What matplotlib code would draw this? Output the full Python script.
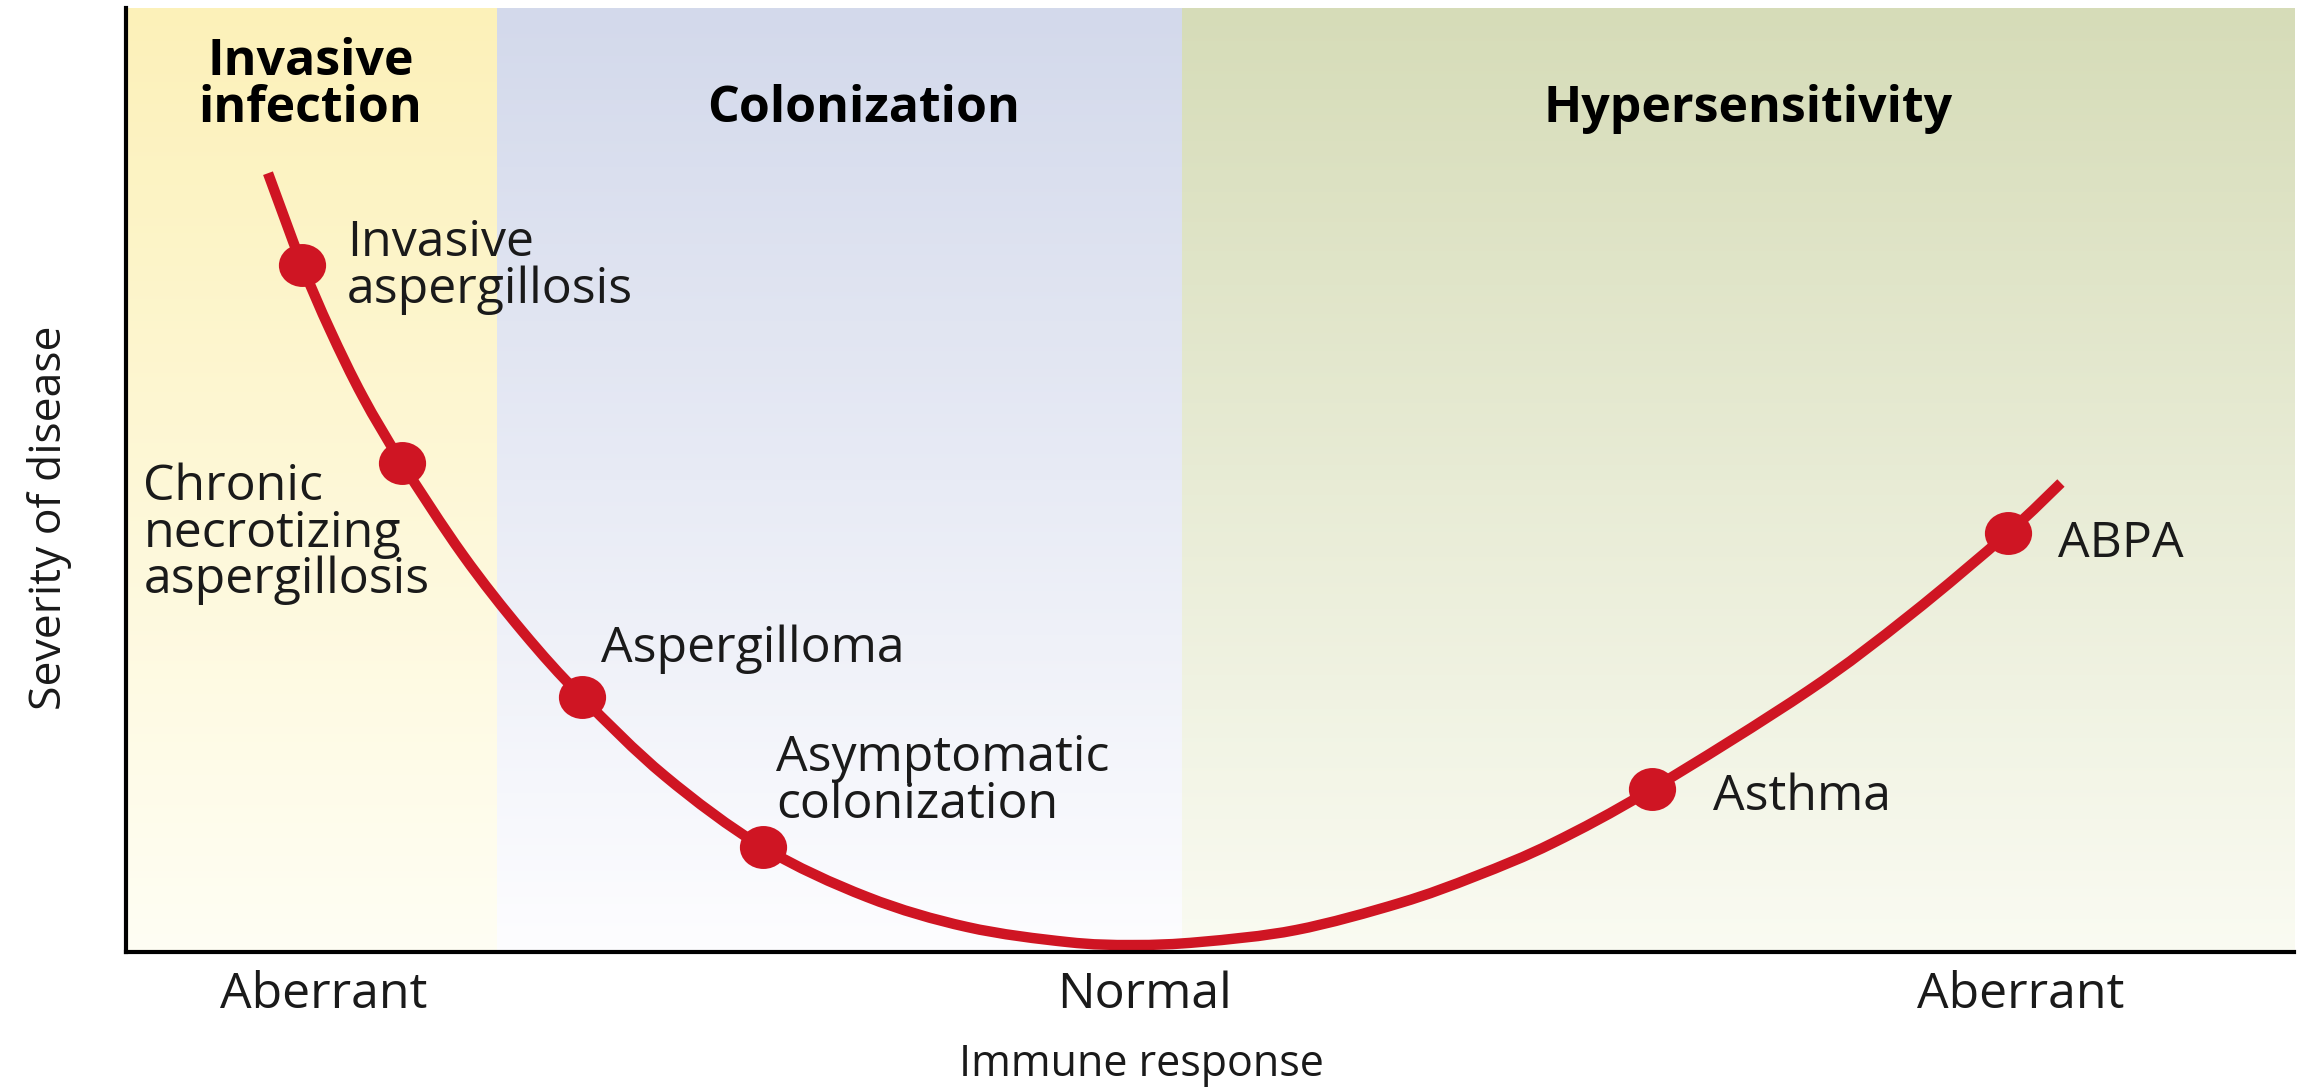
import numpy as np
import matplotlib.pyplot as plt
from matplotlib.colors import LinearSegmentedColormap
from matplotlib.path import Path
from matplotlib.patches import PathPatch

# immune-response zones (x axis runs 0..100, "Normal" near the middle)
zone_names = ["Invasive\ninfection", "Colonization", "Hypersensitivity"]
zone_edges = [0, 17.1, 48.7, 100]
zone_top = ["#fcf1b9", "#d3d9eb", "#d6dcb8"]
zone_bottom = ["#fffef4", "#fdfdff", "#fafbf2"]
zone_title_x = [8.5, 34.0, 74.8]
zone_title_y = [87.9, 87.9, 87.9]   # baseline of the last line

# severity curve
curve_x = [6.55, 8.12, 9.41, 10.93, 12.73, 15.54, 18.31, 21.03, 24.86,
           29.38, 34.18, 38.79, 43.40, 46.45, 49.54, 53.97, 58.76, 62.27,
           65.82, 70.39, 77.58, 82.29, 86.81, 89.25]
curve_y = [82.5, 72.8, 65.9, 58.8, 51.8, 42.06, 33.9, 27.0, 18.64,
           11.1, 5.83, 2.65, 1.06, 0.74, 1.06, 2.33, 5.19, 8.05,
           11.55, 17.27, 27.65, 35.7, 44.39, 49.68]

# diseases on the curve
disease_names = ["Invasive\naspergillosis", "Chronic\nnecrotizing\naspergillosis",
                 "Aspergilloma", "Asymptomatic\ncolonization", "Asthma", "ABPA"]
disease_x = [8.12, 12.73, 21.03, 29.38, 70.39, 86.81]
disease_y = [72.8, 51.8, 27.0, 11.1, 17.27, 44.39]
label_x = [10.2, 0.8, 21.9, 30.0, 73.2, 89.1]
label_y = [68.75, 38.0, 30.7, 14.2, 15.0, 41.8]   # baseline of the last line

tick_pos = [9.1, 47.0, 87.4]
tick_labels = ["Aberrant", "Normal", "Aberrant"]

plt.rcParams['font.family'] = ['Open Sans', 'DejaVu Sans']

fig = plt.figure(figsize=(23.08, 10.91), dpi=100)
ax = fig.add_axes([126 / 2308, 139 / 1091, 2168 / 2308, 944 / 1091])

grad = np.linspace(0, 1, 256).reshape(-1, 1)
for i in range(3):
    cmap = LinearSegmentedColormap.from_list("z%d" % i, [zone_bottom[i], zone_top[i]])
    ax.imshow(grad, extent=[zone_edges[i], zone_edges[i + 1], 0, 100], origin='lower',
              aspect='auto', cmap=cmap, zorder=0)
    ax.text(zone_title_x[i], zone_title_y[i], zone_names[i], ha='center', va='baseline',
            fontsize=36, fontweight='bold', color='black', linespacing=0.92)

red = "#cf1523"

# smooth line through the read points (Catmull-Rom drawn as cubic Beziers)
P = np.column_stack([curve_x, curve_y])
verts = [P[0]]
codes = [Path.MOVETO]
for i in range(len(P) - 1):
    p0 = P[i - 1] if i > 0 else P[i]
    p3 = P[i + 2] if i + 2 < len(P) else P[i + 1]
    verts += [P[i] + (P[i + 1] - p0) / 6, P[i + 1] - (p3 - P[i]) / 6, P[i + 1]]
    codes += [Path.CURVE4] * 3
ax.add_patch(PathPatch(Path(verts, codes), facecolor='none', edgecolor=red,
                       lw=7.5, capstyle='butt', zorder=3))

# slightly oval dots
circ = Path.unit_circle()
ell = Path(circ.vertices * [1.1, 1.0], circ.codes)
ax.plot(disease_x, disease_y, ls='none', marker=ell, markersize=34,
        color=red, markeredgewidth=0, zorder=4)
for name, lx, ly in zip(disease_names, label_x, label_y):
    ax.text(lx, ly, name, ha='left', va='baseline', fontsize=36,
            color='#1a1a1a', linespacing=0.92, zorder=5)

ax.set_xlim(0, 100)
ax.set_ylim(0, 100)
for s in ['top', 'right']:
    ax.spines[s].set_visible(False)
for s in ['left', 'bottom']:
    ax.spines[s].set_linewidth(3)
    ax.spines[s].set_color('black')
    ax.spines[s].set_zorder(6)

ax.set_yticks([])
ax.set_xticks(tick_pos)
ax.set_xticklabels(tick_labels, fontsize=36, color='#1a1a1a')
ax.tick_params(axis='x', length=0, pad=40)
for lab in ax.get_xticklabels():
    lab.set_va('baseline')

ax.set_xlabel("Immune response", fontsize=31, va='baseline', color='#1a1a1a')
ax.xaxis.set_label_coords(0.4686, -0.1314)
ax.set_ylabel("Severity of disease", fontsize=32, va='center', color='#1a1a1a')
ax.yaxis.set_label_coords(-0.0355, 0.4597)

fig.savefig("out.png", dpi=100)
